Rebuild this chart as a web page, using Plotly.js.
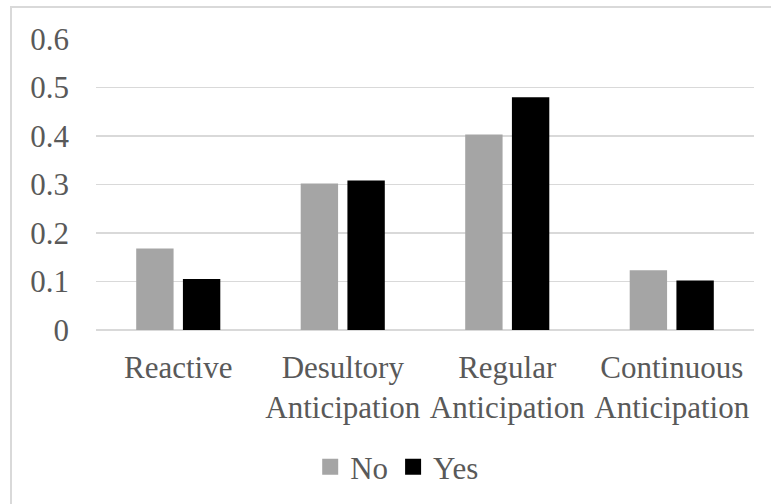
<!DOCTYPE html>
<html>
<head>
<meta charset="utf-8">
<script src="https://cdn.plot.ly/plotly-3.0.1.min.js"></script>
<style>
  html, body { margin: 0; padding: 0; background: #fff; }
  #wrap { position: relative; width: 771px; height: 504px; overflow: hidden; }
  #chart { position: absolute; left: 0; top: 0; width: 771px; height: 504px; }
  #frame { position: absolute; left: 10px; top: 6px; width: 800px; height: 600px;
           border: 2px solid #d9d9d9; pointer-events: none; }
</style>
</head>
<body>
<div id="wrap">
  <div id="chart"></div>
  <div id="frame"></div>
</div>
<script>
const categories = ["Reactive", "Desultory<br>Anticipation", "Regular<br>Anticipation", "Continuous<br>Anticipation"];
const seriesNames = ["No", "Yes"];
const noValues = [0.168, 0.302, 0.403, 0.123];
const yesValues = [0.105, 0.308, 0.480, 0.102];
const yTicks = [0, 0.1, 0.2, 0.3, 0.4, 0.5, 0.6];
const yTickLabels = ["0", "0.1", "0.2", "0.3", "0.4", "0.5", "0.6"];

const fontFam = "Liberation Serif";
const textColor = "#595959";
const colors = ["#a5a5a5", "#000000"];

const traces = [
  { type: "bar", name: seriesNames[0], x: categories, y: noValues, marker: { color: colors[0] }, showlegend: false },
  { type: "bar", name: seriesNames[1], x: categories, y: yesValues, marker: { color: colors[1] }, showlegend: false },
  // legend-only entries with larger square swatches
  { type: "scatter", mode: "markers", name: seriesNames[0], x: [null], y: [null],
    marker: { symbol: "square", size: 16, color: colors[0] }, showlegend: true },
  { type: "scatter", mode: "markers", name: seriesNames[1], x: [null], y: [null],
    marker: { symbol: "square", size: 16, color: colors[1] }, showlegend: true }
];

const layout = {
  width: 771, height: 504,
  margin: { l: 96, r: 17, t: 39, b: 173 },
  paper_bgcolor: "rgba(0,0,0,0)",
  plot_bgcolor: "#ffffff",
  barmode: "group",
  bargap: 0.432,
  bargroupgap: 0.2,
  font: { family: fontFam, size: 31, color: textColor },
  xaxis: {
    type: "category",
    categoryarray: categories,
    showgrid: false,
    showline: false,
    zeroline: false,
    ticks: "",
    tickangle: 0,
    ticklabelstandoff: 16,
    tickfont: { family: fontFam, size: 31, color: textColor },
    fixedrange: true
  },
  yaxis: {
    range: [0, 0.6],
    tickvals: yTicks,
    ticktext: yTickLabels,
    showgrid: true,
    gridcolor: "#d9d9d9",
    gridwidth: 1.3,
    zeroline: true,
    zerolinecolor: "#d9d9d9",
    zerolinewidth: 1.3,
    showline: false,
    ticks: "",
    ticklabelstandoff: 26,
    tickfont: { family: fontFam, size: 31, color: textColor },
    fixedrange: true
  },
  showlegend: true,
  legend: {
    orientation: "h",
    x: 0.457, xanchor: "center",
    y: -0.466, yanchor: "middle",
    font: { family: fontFam, size: 31, color: textColor },
    itemwidth: 30,
    itemsizing: "trace",
    traceorder: "normal"
  }
};

Plotly.newPlot("chart", traces, layout, { displayModeBar: false, staticPlot: true });
</script>
</body>
</html>
